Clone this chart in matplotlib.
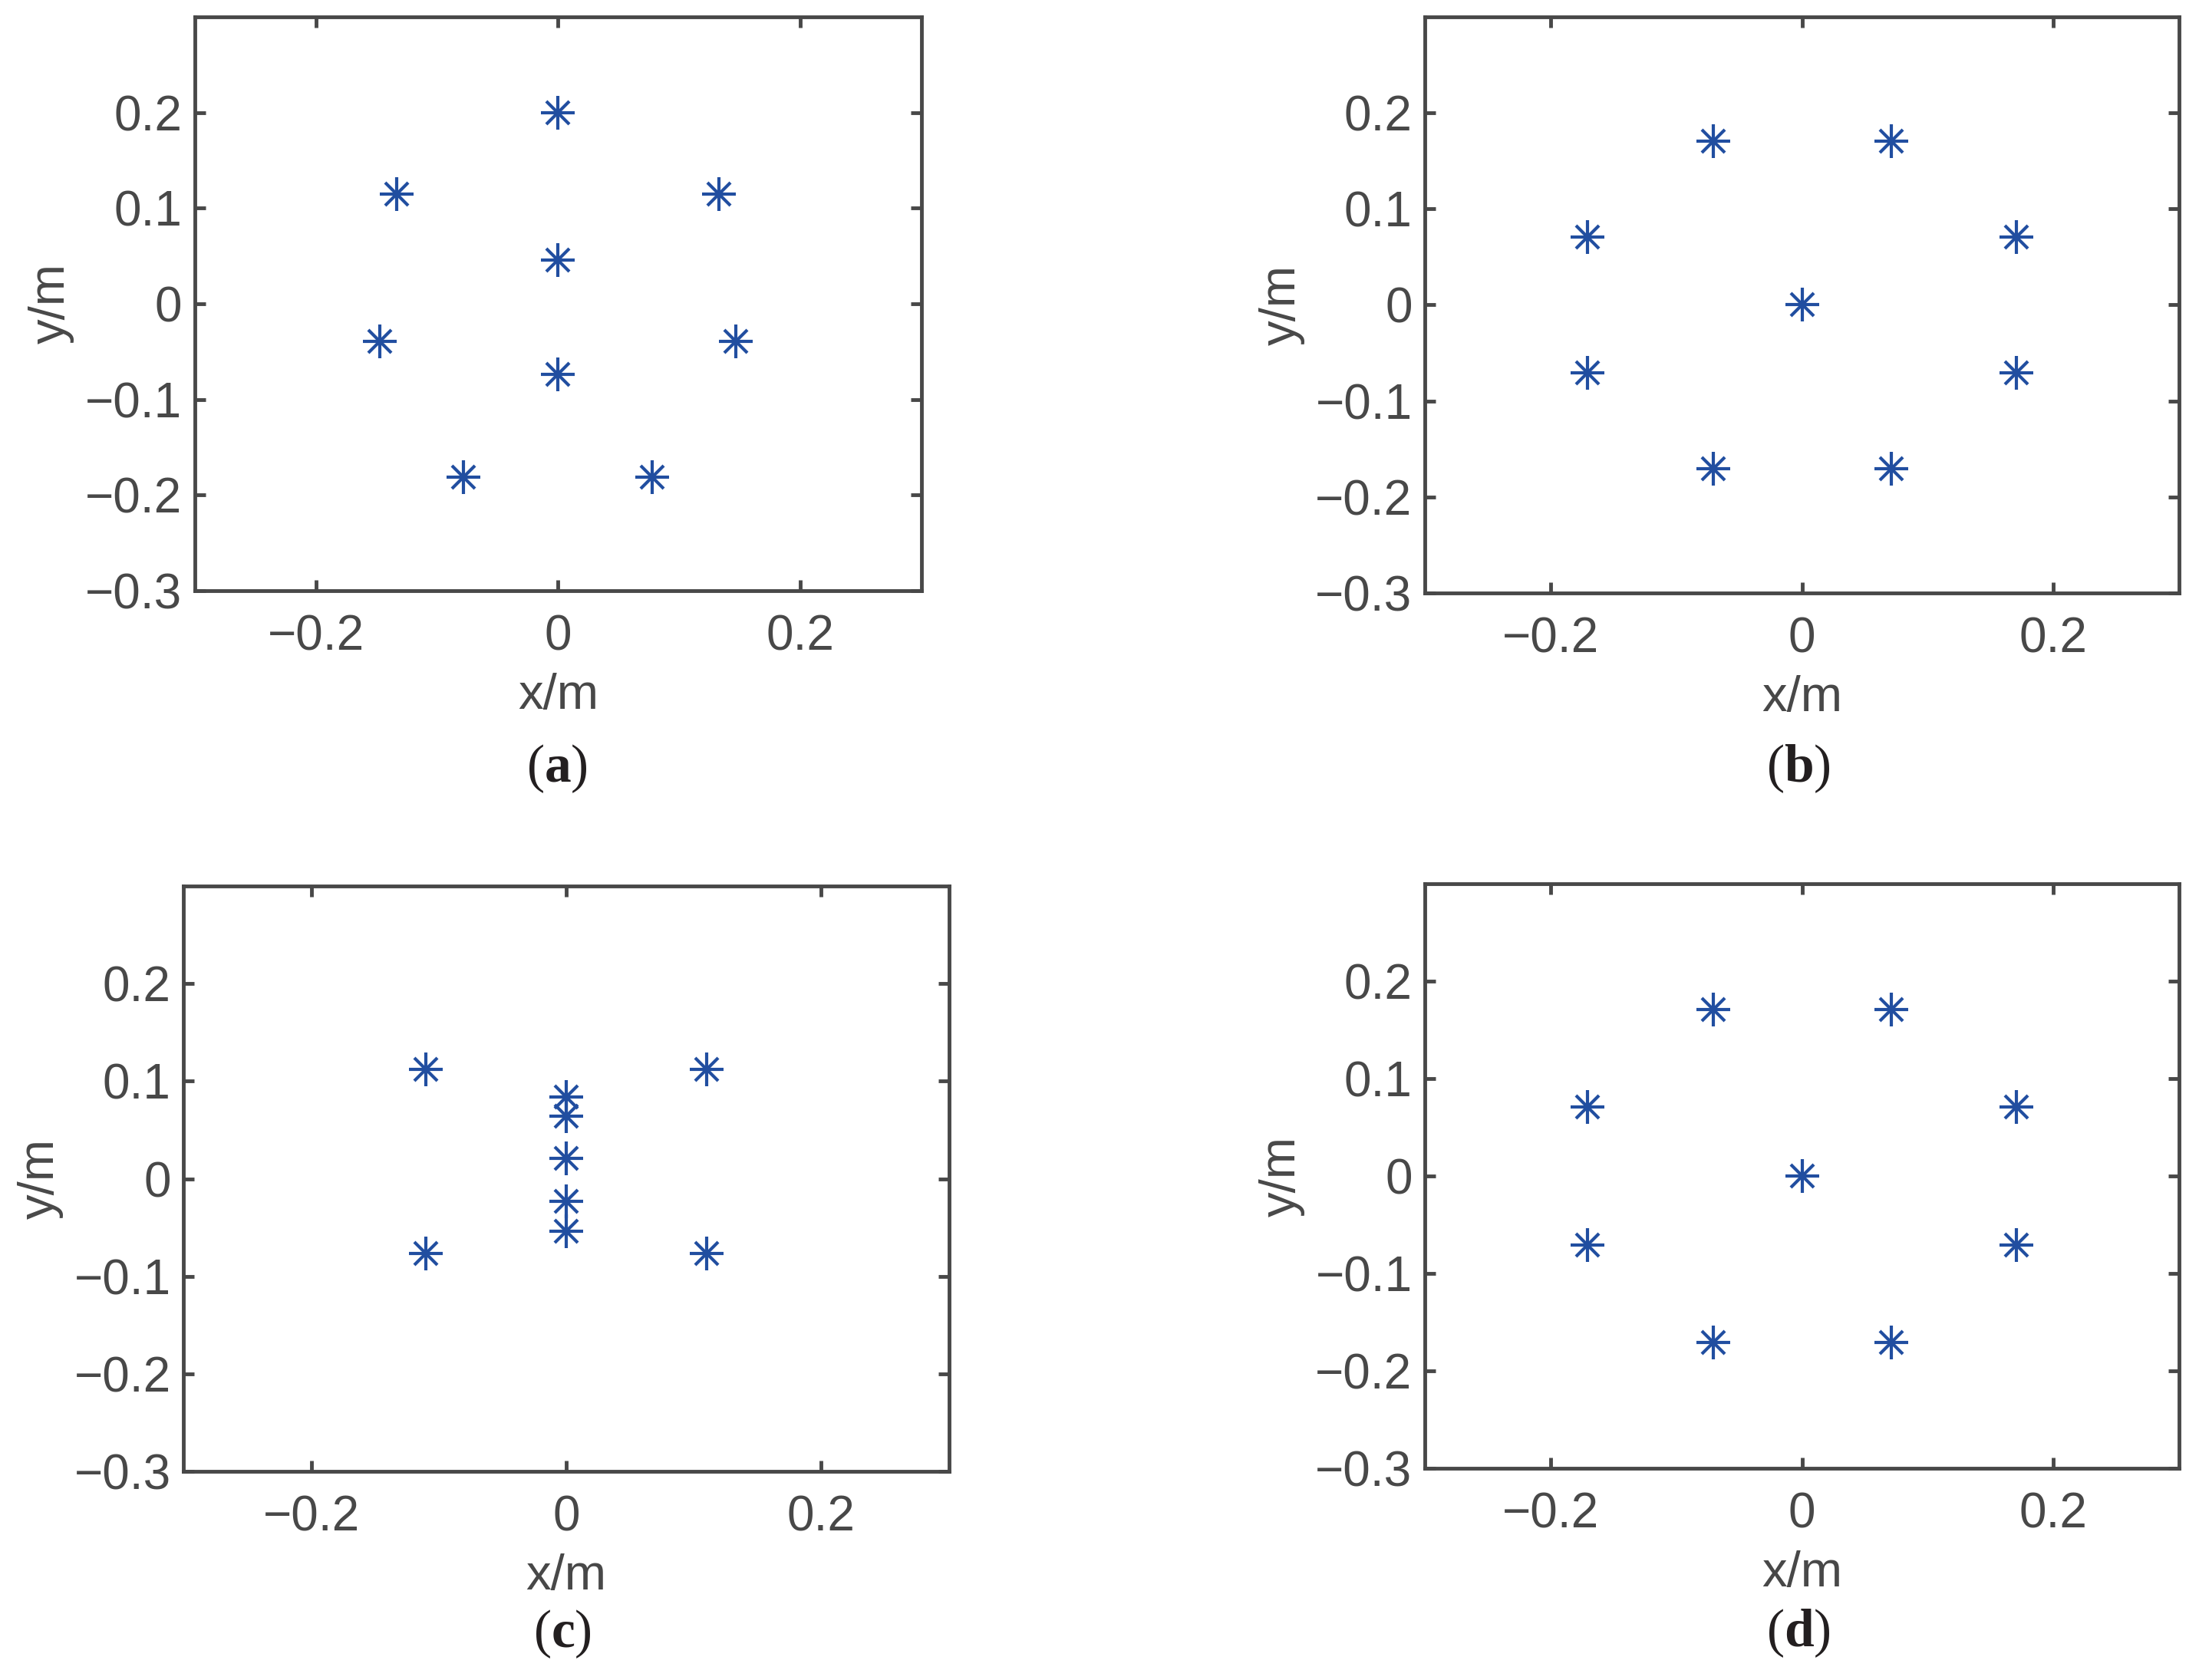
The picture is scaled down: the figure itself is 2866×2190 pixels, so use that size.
import matplotlib.pyplot as plt

plt.rcParams['font.family'] = ['Liberation Sans', 'DejaVu Sans']
plt.rcParams['mathtext.fontset'] = 'custom'
plt.rcParams['mathtext.rm'] = 'Liberation Serif'
plt.rcParams['mathtext.bf'] = 'Liberation Serif:bold'

# array element positions (m)
xa = [0, -0.133, 0.133, 0, -0.147, 0.147, 0, -0.078, 0.078]
ya = [0.2, 0.115, 0.115, 0.046, -0.039, -0.039, -0.074, -0.181, -0.181]

xb = [-0.0707, 0.0707, -0.1707, 0.1707, 0, -0.1707, 0.1707, -0.0707, 0.0707]
yb = [0.1707, 0.1707, 0.0707, 0.0707, 0, -0.0707, -0.0707, -0.1707, -0.1707]

xc = [-0.11, 0.11, 0, 0, 0, 0, 0, -0.11, 0.11]
yc = [0.112, 0.112, 0.084, 0.064, 0.021, -0.023, -0.054, -0.077, -0.077]

xd = [-0.0707, 0.0707, -0.1707, 0.1707, 0, -0.1707, 0.1707, -0.0707, 0.0707]
yd = [0.1707, 0.1707, 0.0707, 0.0707, 0, -0.0707, -0.0707, -0.1707, -0.1707]

xticks = [-0.2, 0, 0.2]
xticklabels = ['\u22120.2', '0', '0.2']
yticks = [-0.3, -0.2, -0.1, 0, 0.1, 0.2]
yticklabels = ['\u22120.3', '\u22120.2', '\u22120.1', '0', '0.1', '0.2']

panels = ['a', 'b', 'c', 'd']

gray = '#484848'
blue = '#214ea0'

fig = plt.figure(figsize=(28.66, 21.9), dpi=100)

rects = [[0.0886, 0.6484, 0.3304, 0.3416],
         [0.648, 0.647, 0.343, 0.343],
         [0.0835, 0.1244, 0.348, 0.348],
         [0.648, 0.126, 0.343, 0.348]]
label_pos = [(0.2533, 0.5425), (0.818, 0.5425), (0.2558, 0.0274), (0.818, 0.028)]

data = [(xa, ya), (xb, yb), (xc, yc), (xd, yd)]

for i, (x, y) in enumerate(data):
    ax = fig.add_axes(rects[i])
    # MATLAB style asterisk: a plus with a slightly smaller cross on top
    ax.plot(x, y, ls='none', marker='+', ms=31, mew=3.0, color=blue)
    ax.plot(x, y, ls='none', marker='x', ms=22, mew=3.0, color=blue)
    ax.set_xlim(-0.3, 0.3)
    ax.set_ylim(-0.3, 0.3)
    ax.set_xticks(xticks)
    ax.set_xticklabels(xticklabels)
    ax.set_yticks(yticks)
    ax.set_yticklabels(yticklabels)
    ax.tick_params(direction='in', length=10, width=3.5, color=gray,
                   labelsize=46, labelcolor=gray, top=True, right=True)
    ax.tick_params(axis='x', pad=22)
    ax.tick_params(axis='y', pad=12)
    for s in ax.spines.values():
        s.set_linewidth(3.5)
        s.set_color(gray)
    ax.set_xlabel('x/m', fontsize=47, color=gray, labelpad=12)
    ax.set_ylabel('y/m', fontsize=47, color=gray, labelpad=10)
    fig.text(label_pos[i][0], label_pos[i][1], r'($\mathbf{%s}$)' % panels[i],
             ha='center', va='center', fontsize=50, family='Liberation Serif',
             color='#231f20')

fig.savefig('out.png', dpi=100, facecolor='white')
